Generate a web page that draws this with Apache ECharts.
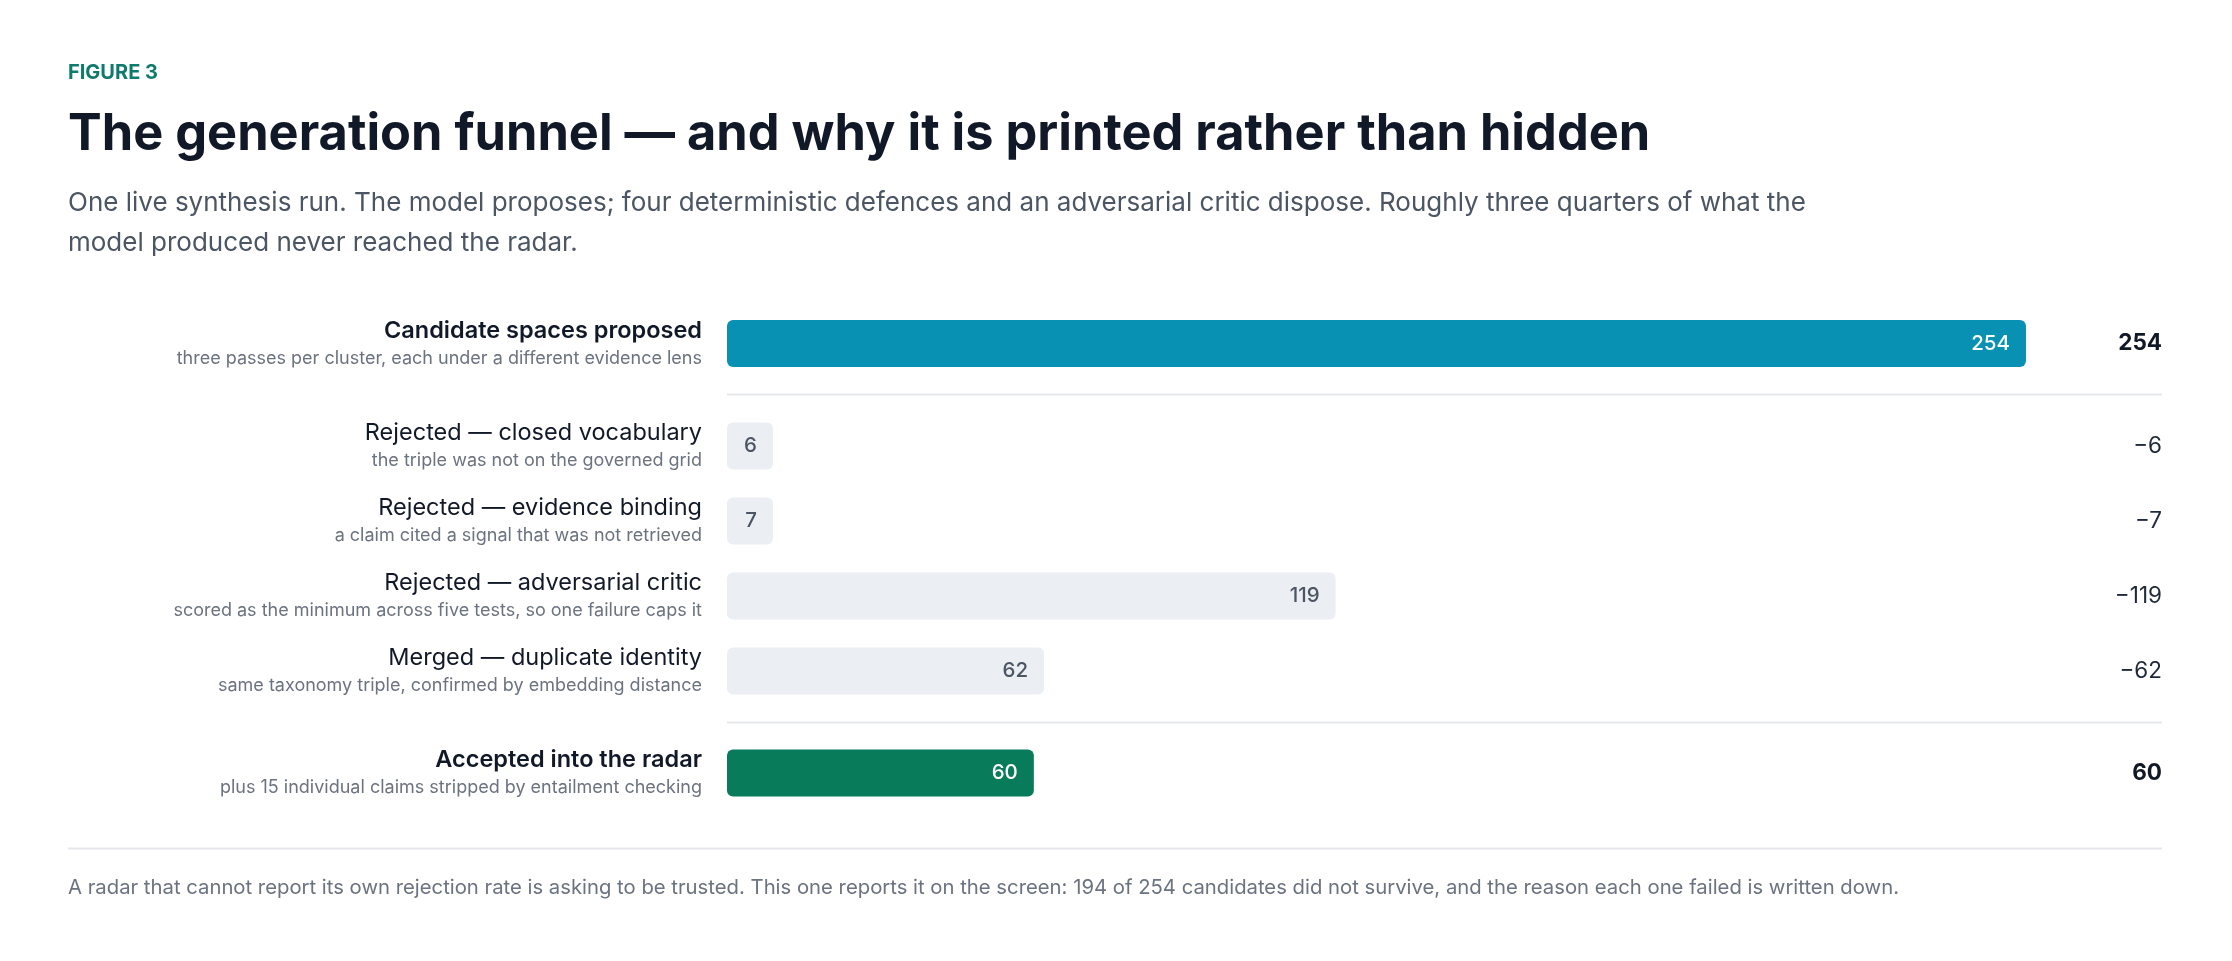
<!DOCTYPE html>
<html>
<head>
<meta charset="utf-8">
<script src="https://cdn.jsdelivr.net/npm/echarts@6/dist/echarts.min.js"></script>
<style>
  html, body { margin: 0; padding: 0; background: #ffffff; }
  #chart { width: 2232px; height: 961px; }
</style>
</head>
<body>
<div id="chart"></div>
<script>
// ---- data ----
const figureLabel = 'FIGURE 3';
const chartTitle = 'The generation funnel — and why it is printed rather than hidden';
const chartSubtitle = 'One live synthesis run. The model proposes; four deterministic defences and an adversarial critic dispose. Roughly three quarters of what the model produced never reached the radar.';
const footnote = 'A radar that cannot report its own rejection rate is asking to be trusted. This one reports it on the screen: 194 of 254 candidates did not survive, and the reason each one failed is written down.';

const stages = [
  'Candidate spaces proposed',
  'Rejected — closed vocabulary',
  'Rejected — evidence binding',
  'Rejected — adversarial critic',
  'Merged — duplicate identity',
  'Accepted into the radar'
];
const stageNotes = [
  'three passes per cluster, each under a different evidence lens',
  'the triple was not on the governed grid',
  'a claim cited a signal that was not retrieved',
  'scored as the minimum across five tests, so one failure caps it',
  'same taxonomy triple, confirmed by embedding distance',
  'plus 15 individual claims stripped by entailment checking'
];
const counts = [254, 6, 7, 119, 62, 60];
const deltaLabels = ['254', '−6', '−7', '−119', '−62', '60'];
const stageKind = ['total', 'loss', 'loss', 'loss', 'loss', 'result'];

// ---- styling ----
const FONT = 'Inter, "Noto Sans", sans-serif';
const kindStyle = {
  total:  { bar: '#0991b4', label: '#ffffff', bold: true },
  loss:   { bar: '#ebeef2', label: '#4b5563', bold: false },
  result: { bar: '#077b5a', label: '#ffffff', bold: true }
};

// three bands of rows: the proposal, the losses, the result
const bands = [
  { rows: [0], top: 306, height: 75 },
  { rows: [1, 2, 3, 4], top: 408.5, height: 300 },
  { rows: [5], top: 735.5, height: 75 }
];
const gridLeft = 727, gridRight = 70;
const axisMax = 280.6;

const grids = [], xAxes = [], yAxes = [], series = [];
bands.forEach((b, g) => {
  grids.push({ left: gridLeft, right: gridRight, top: b.top, height: b.height, containLabel: false });
  xAxes.push({ gridIndex: g, type: 'value', min: 0, max: axisMax, show: false });
  const names = b.rows.map(i => stages[i]);
  yAxes.push({
    gridIndex: g, type: 'category', data: names, inverse: true, position: 'left',
    axisLine: { show: false }, axisTick: { show: false }, splitLine: { show: false },
    axisLabel: {
      margin: 25, align: 'right',
      formatter: (v) => {
        const i = stages.indexOf(v);
        const bold = kindStyle[stageKind[i]].bold;
        return '{' + (bold ? 'mb' : 'm') + '|' + v + '}\n{s|' + stageNotes[i] + '}';
      },
      rich: {
        mb: { fontFamily: FONT, fontSize: 23.5, fontWeight: 600, color: '#111827', lineHeight: 30, align: 'right', padding: [4, 0, 0, 0] },
        m:  { fontFamily: FONT, fontSize: 23.5, fontWeight: 400, color: '#111827', lineHeight: 30, align: 'right', padding: [4, 0, 0, 0] },
        s:  { fontFamily: FONT, fontSize: 18, fontWeight: 400, color: '#6b7280', lineHeight: 30, align: 'right' }
      }
    }
  });
  yAxes.push({
    gridIndex: g, type: 'category', data: names, inverse: true, position: 'right',
    axisLine: { show: false }, axisTick: { show: false }, splitLine: { show: false },
    axisLabel: {
      margin: 0, align: 'right',
      fontFamily: FONT, fontSize: 22.5,
      formatter: (v) => {
        const i = stages.indexOf(v);
        return kindStyle[stageKind[i]].bold ? '{b|' + deltaLabels[i] + '}' : '{r|' + deltaLabels[i] + '}';
      },
      rich: {
        b: { fontFamily: FONT, fontSize: 22.5, fontWeight: 700, color: '#111827' },
        r: { fontFamily: FONT, fontSize: 22.5, fontWeight: 400, color: '#1f2937' }
      }
    }
  });
  series.push({
    type: 'bar',
    xAxisIndex: g, yAxisIndex: g * 2,
    barWidth: 47, barMinHeight: 46,
    silent: true,
    data: b.rows.map(i => ({
      value: counts[i],
      itemStyle: { color: kindStyle[stageKind[i]].bar, borderRadius: 6 },
      label: { color: kindStyle[stageKind[i]].label }
    })),
    label: {
      show: true, position: 'insideRight', distance: 16,
      fontFamily: FONT, fontSize: 20.5, fontWeight: 500
    }
  });
});

const chart = echarts.init(document.getElementById('chart'), null, { renderer: 'canvas' });
chart.setOption({
  animation: false,
  backgroundColor: '#ffffff',
  title: [
    { text: figureLabel, left: 68, top: 63, padding: 0,
      textStyle: { fontFamily: FONT, fontSize: 20, fontWeight: 700, color: '#0f7b6c', lineHeight: 20 } },
    { text: chartTitle, left: 68, top: 105, padding: 0,
      textStyle: { fontFamily: FONT, fontSize: 50.5, fontWeight: 700, color: '#111827', lineHeight: 60 } },
    { text: chartSubtitle, left: 68, top: 183, padding: 0,
      textStyle: { fontFamily: FONT, fontSize: 26, fontWeight: 400, color: '#4b5563', lineHeight: 40,
                   width: 1790, overflow: 'break' } },
    { text: footnote, left: 68, top: 874, padding: 0,
      textStyle: { fontFamily: FONT, fontSize: 20.3, fontWeight: 400, color: '#6b7280', lineHeight: 28 } }
  ],
  grid: grids,
  xAxis: xAxes,
  yAxis: yAxes,
  series: series,
  graphic: [
    { type: 'line', silent: true, shape: { x1: 727, y1: 394.5, x2: 2162, y2: 394.5 }, style: { stroke: '#e5e7eb', lineWidth: 2 } },
    { type: 'line', silent: true, shape: { x1: 727, y1: 722.5, x2: 2162, y2: 722.5 }, style: { stroke: '#e5e7eb', lineWidth: 2 } },
    { type: 'line', silent: true, shape: { x1: 68, y1: 848.5, x2: 2162, y2: 848.5 }, style: { stroke: '#e5e7eb', lineWidth: 2 } }
  ]
});
</script>
</body>
</html>
